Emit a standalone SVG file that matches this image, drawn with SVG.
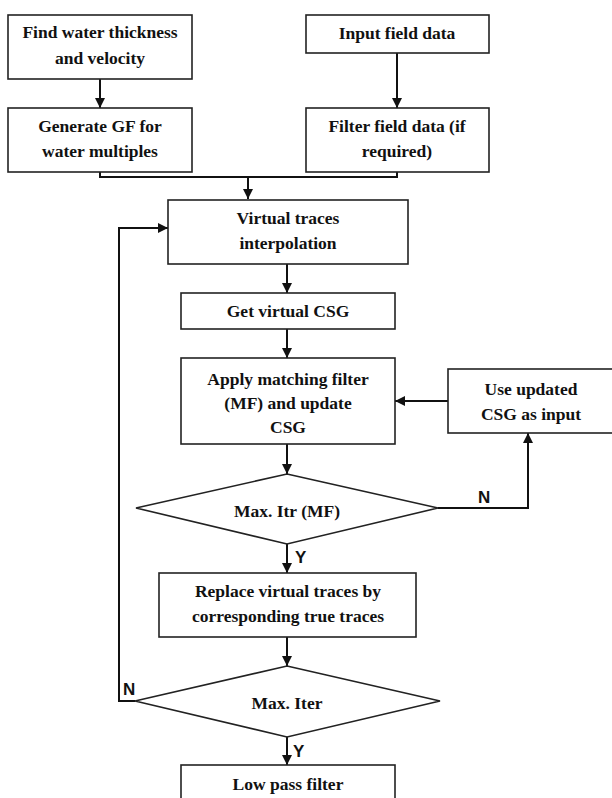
<svg xmlns="http://www.w3.org/2000/svg" width="612" height="798" viewBox="0 0 612 798">
<style>
.box{fill:#fff;stroke:#222;stroke-width:1.6}
.t{font-family:"Liberation Serif","Times New Roman",serif;font-weight:bold;font-size:17.5px;fill:#111;text-anchor:middle}
.lbl{font-family:"Liberation Sans",Arial,sans-serif;font-weight:bold;font-size:17px;fill:#111}
.c{fill:none;stroke:#111;stroke-width:2}
</style>
<defs>
<marker id="ah" viewBox="0 0 10 10" refX="10" refY="5" markerWidth="10" markerHeight="10" markerUnits="userSpaceOnUse" orient="auto">
<path d="M0,0 L10,5 L0,10 z" fill="#111"/>
</marker>
</defs>
<rect width="612" height="798" fill="#fff"/>
<g id="connectors">
<path class="c" d="M100,79 V108" marker-end="url(#ah)"/>
<path class="c" d="M397,53 V108" marker-end="url(#ah)"/>
<path class="c" d="M100,172 V177 H397 V172"/>
<path class="c" d="M248,177 V199" marker-end="url(#ah)"/>
<path class="c" d="M287,264 V293" marker-end="url(#ah)"/>
<path class="c" d="M287,329 V358" marker-end="url(#ah)"/>
<path class="c" d="M448,401 H395" marker-end="url(#ah)"/>
<path class="c" d="M287,444 V474" marker-end="url(#ah)"/>
<path class="c" d="M438,508 H528 V433" marker-end="url(#ah)"/>
<path class="c" d="M287,544 V573" marker-end="url(#ah)"/>
<path class="c" d="M287,637 V666" marker-end="url(#ah)"/>
<path class="c" d="M135,701 H119 V228 H168" marker-end="url(#ah)"/>
<path class="c" d="M287,737 V765" marker-end="url(#ah)"/>
<text class="lbl" x="478" y="503">N</text>
<text class="lbl" x="295" y="563">Y</text>
<text class="lbl" x="123" y="695">N</text>
<text class="lbl" x="293" y="757">Y</text>
</g>
<g id="n1"><rect class="box" x="8" y="15" width="184" height="64"/>
<text class="t" x="100" y="38">Find water thickness</text><text class="t" x="100" y="64">and velocity</text></g>
<g id="n2"><rect class="box" x="306" y="15" width="183" height="38"/>
<text class="t" x="397" y="39">Input field data</text></g>
<g id="n3"><rect class="box" x="8" y="108" width="184" height="64"/>
<text class="t" x="100" y="132">Generate GF for</text><text class="t" x="100" y="157">water multiples</text></g>
<g id="n4"><rect class="box" x="306" y="108" width="183" height="64"/>
<text class="t" x="397" y="132">Filter field data (if</text><text class="t" x="397" y="157">required)</text></g>
<g id="n5"><rect class="box" x="168" y="200" width="240" height="64"/>
<text class="t" x="288" y="224">Virtual traces</text><text class="t" x="288" y="249">interpolation</text></g>
<g id="n6"><rect class="box" x="181" y="293" width="214" height="36"/>
<text class="t" x="288" y="317">Get virtual CSG</text></g>
<g id="n7"><rect class="box" x="181" y="358" width="214" height="86"/>
<text class="t" x="288" y="385">Apply matching filter</text><text class="t" x="288" y="409">(MF) and update</text><text class="t" x="288" y="433">CSG</text></g>
<g id="n8"><rect class="box" x="448" y="369" width="170" height="64"/>
<text class="t" x="531" y="395">Use updated</text><text class="t" x="531" y="420">CSG as input</text></g>
<g id="d1"><polygon class="box" points="287,474 438,508 287,544 136,508"/>
<text class="t" x="287" y="517">Max. Itr (MF)</text></g>
<g id="n9"><rect class="box" x="159" y="573" width="257" height="64"/>
<text class="t" x="288" y="597">Replace virtual traces by</text><text class="t" x="288" y="622">corresponding true traces</text></g>
<g id="d2"><polygon class="box" points="287,666 440,701 287,737 135,701"/>
<text class="t" x="287" y="709">Max. Iter</text></g>
<g id="n10"><rect class="box" x="181" y="765" width="214" height="50"/>
<text class="t" x="288" y="790">Low pass filter</text></g>
</svg>
